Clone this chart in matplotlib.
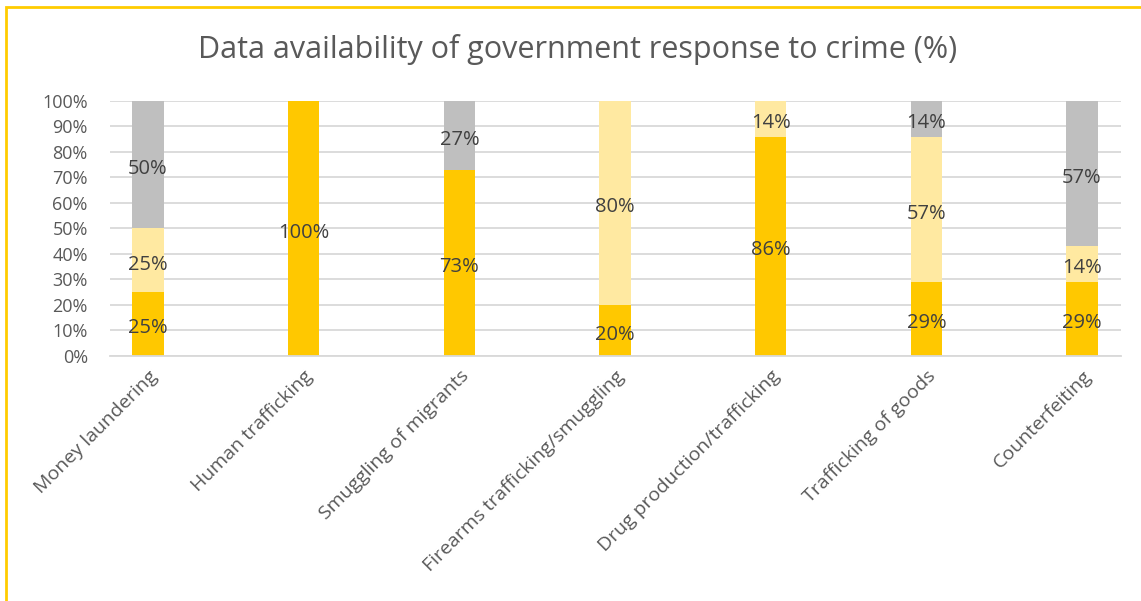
import numpy as np
import matplotlib.pyplot as plt
from matplotlib.patches import Rectangle

plt.rcParams['font.family'] = ['Open Sans', 'DejaVu Sans']

crimes = ['Money laundering', 'Human trafficking', 'Smuggling of migrants',
          'Firearms trafficking/smuggling', 'Drug production/trafficking',
          'Trafficking of goods', 'Counterfeiting']
first = np.array([25, 100, 73, 20, 86, 29, 29])
second = np.array([25, 0, 0, 80, 14, 57, 14])
third = np.array([50, 0, 27, 0, 0, 14, 57])

colors = ['#FFC800', '#FFE9A1', '#BFBFBF']
txt = '#404040'

fig = plt.figure(figsize=(11.41, 6.01), dpi=100)
ax = fig.add_axes([0.0964, 0.4077, 0.886, 0.4243])

x = np.arange(len(crimes))
w = 0.2
bottom = np.zeros(len(crimes))
for vals, c in zip([first, second, third], colors):
    ax.bar(x, vals, w, bottom=bottom, color=c, zorder=2)
    for xi, b, v in zip(x, bottom, vals):
        if v > 0:
            ax.annotate(f'{v}%', (xi, b + v / 2), xytext=(0, -3),
                        textcoords='offset points', ha='center', va='center',
                        fontsize=14.5, color=txt, zorder=3)
    bottom = bottom + vals

ax.set_xlim(-0.244, 6.25)
ax.set_ylim(0, 100)
ax.set_yticks(np.arange(0, 101, 10))
ax.set_yticklabels([f'{t}%' for t in range(0, 101, 10)], fontsize=13, color='#595959')
ax.yaxis.grid(True, color='#D9D9D9', linewidth=1.3, zorder=0)
ax.tick_params(length=0, pad=16)
for s in ['top', 'right', 'left']:
    ax.spines[s].set_visible(False)
ax.spines['bottom'].set_color('#D9D9D9')
ax.spines['bottom'].set_linewidth(1.3)

ax.set_xticks(x)
ax.set_xticklabels(crimes, rotation=45, ha='right', rotation_mode='anchor',
                   fontsize=14, color='#595959')
ax.tick_params(axis='x', pad=8)

fig.text(0.506, 0.918, 'Data availability of government response to crime (%)',
         ha='center', va='center', fontsize=22, color='#595959')

# chart frame; right and bottom edges fall outside the canvas
fig.patches.append(Rectangle((6 / 1141, -0.1), 1.2, 1 - 7 / 601 + 0.1,
                             transform=fig.transFigure, fill=False,
                             edgecolor='#FFCC00', linewidth=2))

fig.savefig('out.png', dpi=100)
